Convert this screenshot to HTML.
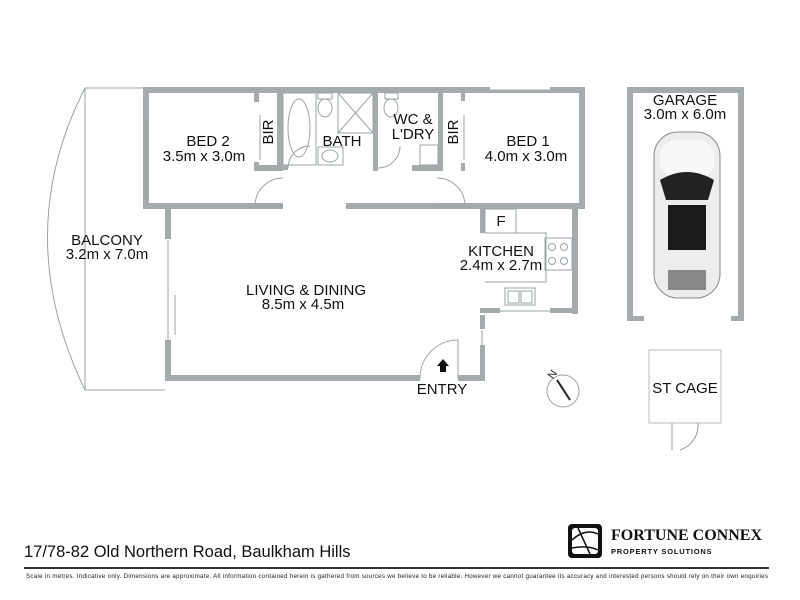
<!DOCTYPE html>
<html><head><meta charset="utf-8"><style>
html,body{margin:0;padding:0;background:#fff;}
svg{display:block;font-family:"Liberation Sans",Arial,sans-serif;}
</style></head><body>
<svg width="800" height="600" viewBox="0 0 800 600" xmlns="http://www.w3.org/2000/svg">
<g fill="#a3abad">
<rect x="143" y="87" width="442" height="6"/>
<rect x="143" y="87" width="6" height="122"/>
<rect x="579" y="87" width="6" height="122"/>
<rect x="143" y="203" width="140" height="6"/>
<rect x="346" y="203" width="239" height="6"/>
<rect x="254" y="93" width="5" height="9"/>
<rect x="254" y="162" width="5" height="9"/>
<rect x="277" y="93" width="6" height="78"/>
<rect x="254" y="165" width="29" height="6"/>
<rect x="283" y="165" width="5" height="5"/>
<rect x="373" y="93" width="5" height="78"/>
<rect x="438" y="93" width="5" height="78"/>
<rect x="412" y="165" width="31" height="6"/>
<rect x="461" y="93" width="4" height="8"/>
<rect x="461" y="163" width="4" height="8"/>
<rect x="165" y="209" width="6" height="30"/>
<rect x="165" y="340" width="6" height="41"/>
<rect x="165" y="375" width="255" height="6"/>
<rect x="458" y="375" width="27" height="6"/>
<rect x="480" y="315" width="5" height="14"/>
<rect x="480" y="345" width="5" height="36"/>
<rect x="480" y="209" width="5" height="24"/>
<rect x="572" y="209" width="6" height="105"/>
<rect x="480" y="308" width="20" height="5"/>
<rect x="550" y="308" width="28" height="5"/>
<rect x="627" y="87" width="117" height="6"/>
<rect x="627" y="87" width="6" height="234"/>
<rect x="738" y="87" width="6" height="234"/>
<rect x="627" y="316" width="17" height="5"/>
<rect x="731" y="316" width="13" height="5"/>
</g>
<g fill="none" stroke="#9aa3a6" stroke-width="1">
<path d="M85 88 L143 88"/>
<path d="M85 88 Q10 235 85 390 L165 390"/>
<line x1="85" y1="88" x2="85" y2="390"/>
<line x1="146" y1="120" x2="146" y2="200"/>
<line x1="168" y1="240" x2="168" y2="340"/>
<line x1="175" y1="295" x2="175" y2="335"/>
<line x1="482" y1="330" x2="482" y2="345"/>
<line x1="500" y1="311" x2="550" y2="311"/>
<line x1="490" y1="88" x2="550" y2="88" stroke="#fff" stroke-width="3"/>
<path d="M283 206 L255 206 A28 28 0 0 1 283 178"/>
<path d="M437 206 L465 206 A28 28 0 0 0 437 178"/>
<path d="M420 378 A38 38 0 0 1 458 340 L458 378"/>
<path d="M288 168 A22 22 0 0 1 310 146"/>
<path d="M378 168 A22 22 0 0 0 400 146"/>
<rect x="283" y="93" width="33" height="72"/>
<ellipse cx="299" cy="128" rx="11" ry="29"/>
<rect x="338" y="93" width="35" height="40"/>
<line x1="338" y1="93" x2="373" y2="133"/><line x1="373" y1="93" x2="338" y2="133"/>
<ellipse cx="325" cy="108" rx="7" ry="9"/>
<rect x="318" y="93" width="14" height="6"/>
<rect x="318" y="147" width="25" height="18"/>
<ellipse cx="330" cy="156" rx="8" ry="6"/>
<ellipse cx="391" cy="108" rx="7" ry="9"/>
<rect x="385" y="93" width="13" height="6"/>
<rect x="420" y="145" width="18" height="20"/>
<line x1="260" y1="115" x2="260" y2="160"/>
<line x1="464" y1="115" x2="464" y2="160"/>
<rect x="485" y="209" width="31" height="24"/>
<path d="M516 233 L546 233 L546 282 L485 282"/>
<rect x="545" y="238" width="27" height="32"/>
<circle cx="552" cy="247" r="3.5"/><circle cx="564" cy="247" r="3.5"/>
<circle cx="552" cy="261" r="3.5"/><circle cx="564" cy="261" r="3.5"/>
<rect x="505" y="288" width="30" height="17"/>
<rect x="508" y="291" width="11" height="12"/><rect x="521" y="291" width="11" height="12"/>
<circle cx="563" cy="391" r="16"/>
<rect x="649" y="350" width="72" height="73" stroke="#bbb"/>
<path d="M672 423 L672 450 M698 423 A26 26 0 0 1 680 450" stroke="#999"/>
</g>
<line x1="557" y1="380" x2="570" y2="400" stroke="#222" stroke-width="2"/>
<text x="548" y="378" font-size="11" transform="rotate(-55 552 374)" fill="#222">N</text>
<path d="M443 359 L449 366 L446 366 L446 372 L440 372 L440 366 L437 366 Z" fill="#111"/>
<g>
<rect x="654" y="132" width="66" height="166" rx="24" fill="#eceeee" stroke="#888"/>
<rect x="660" y="140" width="54" height="38" rx="16" fill="#f7f8f8"/>
<path d="M660 180 Q687 164 714 180 L708 200 L666 200 Z" fill="#222"/>
<rect x="668" y="205" width="38" height="45" fill="#1a1a1a"/>
<rect x="668" y="270" width="38" height="20" fill="#888"/>
</g>
<g font-size="15" fill="#111" text-anchor="middle">
<text x="208" y="146">BED 2</text><text x="204" y="161">3.5m x 3.0m</text>
<text x="342" y="146">BATH</text>
<text x="413" y="124">WC &amp;</text><text x="413" y="139">L'DRY</text>
<text x="528" y="146">BED 1</text><text x="526" y="161">4.0m x 3.0m</text>
<text x="107" y="245">BALCONY</text><text x="107" y="259">3.2m x 7.0m</text>
<text x="306" y="295">LIVING &amp; DINING</text><text x="303" y="309">8.5m x 4.5m</text>
<text x="501" y="226">F</text>
<text x="501" y="256">KITCHEN</text><text x="501" y="270">2.4m x 2.7m</text>
<text x="442" y="394">ENTRY</text>
<text x="685" y="105">GARAGE</text><text x="685" y="119">3.0m x 6.0m</text>
<text x="685" y="393">ST CAGE</text>
<text transform="translate(273 132) rotate(-90)">BIR</text>
<text transform="translate(458 132) rotate(-90)">BIR</text>
</g>
<text x="24" y="557" font-size="16.5" fill="#111">17/78-82 Old Northern Road, Baulkham Hills</text>
<rect x="24" y="567" width="745" height="2" fill="#333"/>
<text x="26" y="578" font-size="6.2" fill="#222" textLength="742">Scale in metres. Indicative only. Dimensions are approximate. All information contained herein is gathered from sources we believe to be reliable. However we cannot guarantee its accuracy and interested persons should rely on their own enquiries</text>
<rect x="568" y="524" width="34" height="34" rx="4" fill="#111"/>
<rect x="572" y="528" width="26" height="26" rx="3" fill="#fff"/>
<path d="M572 540 Q585 528 598 534 M578 528 L590 554 M572 548 Q588 545 598 550" stroke="#111" stroke-width="1.5" fill="none"/>
<text x="611" y="540" font-family="Liberation Serif,serif" font-weight="bold" font-size="16" fill="#111">FORTUNE CONNEX</text>
<text x="611" y="554" font-weight="bold" font-size="7.5" fill="#111" letter-spacing="0.8">PROPERTY SOLUTIONS</text>
</svg>
</body></html>
